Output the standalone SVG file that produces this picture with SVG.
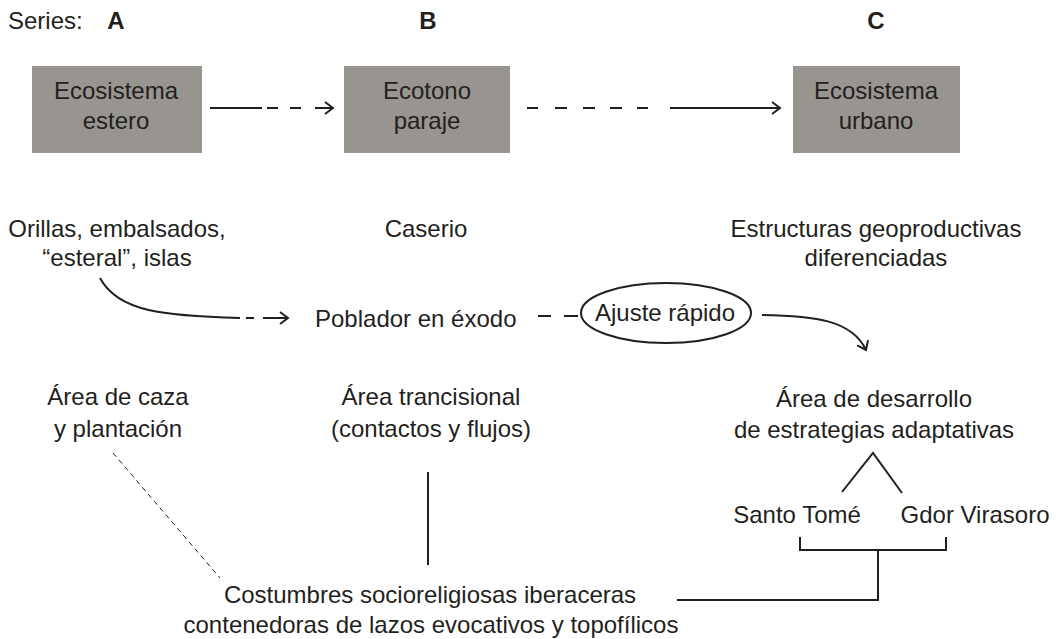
<svg xmlns="http://www.w3.org/2000/svg" width="1060" height="639" viewBox="0 0 1060 639">
<style>
text{font-family:"Liberation Sans",Arial,sans-serif;font-size:24px;fill:#231f20}
.b{font-weight:bold}
.m{text-anchor:middle}
.box{fill:#98948f}
.ln{fill:none;stroke:#231f20;stroke-width:2}
.thin{fill:none;stroke:#231f20;stroke-width:1;stroke-dasharray:5 4}
</style>
<defs>
<marker id="ah" markerUnits="userSpaceOnUse" markerWidth="14" markerHeight="16" refX="11" refY="8" orient="auto" viewBox="0 0 14 16">
<path d="M3,2 L11,8 L3,14" fill="none" stroke="#231f20" stroke-width="2"/>
</marker>
</defs>
<rect width="1060" height="639" fill="#fff"/>
<g id="header">
<text x="8" y="29">Series:</text>
<text class="b m" x="116" y="29">A</text>
<text class="b m" x="428" y="29">B</text>
<text class="b m" x="876" y="29">C</text>
</g>
<g id="nodeA">
<rect class="box" x="32" y="66" width="170" height="87"/>
<text class="m" x="116" y="99">Ecosistema</text>
<text class="m" x="116" y="129">estero</text>
</g>
<g id="nodeB">
<rect class="box" x="344" y="66" width="166" height="87"/>
<text class="m" x="427" y="99">Ecotono</text>
<text class="m" x="427" y="129">paraje</text>
</g>
<g id="nodeC">
<rect class="box" x="793" y="66" width="167" height="87"/>
<text class="m" x="876" y="99">Ecosistema</text>
<text class="m" x="876" y="129">urbano</text>
</g>
<g id="orillas"><text class="m" x="117" y="237">Orillas, embalsados,</text><text class="m" x="117" y="266">“esteral”, islas</text></g>
<g id="caserio"><text class="m" x="426" y="237">Caserio</text></g>
<g id="estructuras"><text class="m" x="876" y="237">Estructuras geoproductivas</text><text class="m" x="876" y="266">diferenciadas</text></g>
<g id="poblador"><text x="315" y="327">Poblador en éxodo</text></g>
<g id="ajuste">
<ellipse class="ln" cx="666" cy="313" rx="85" ry="30"/>
<text class="m" x="665" y="321">Ajuste rápido</text>
</g>
<g id="caza"><text class="m" x="118" y="405">Área de caza</text><text class="m" x="118" y="437">y plantación</text></g>
<g id="trancisional"><text class="m" x="431" y="405">Área trancisional</text><text class="m" x="431" y="437">(contactos y flujos)</text></g>
<g id="desarrollo"><text class="m" x="874" y="407">Área de desarrollo</text><text class="m" x="874" y="438">de estrategias adaptativas</text></g>
<g id="santotome"><text class="m" x="797" y="523">Santo Tomé</text></g>
<g id="virasoro"><text class="m" x="975" y="523">Gdor Virasoro</text></g>
<g id="costumbres"><text class="m" x="430" y="603">Costumbres socioreligiosas iberaceras</text><text class="m" x="431" y="633">contenedoras de lazos evocativos y topofílicos</text></g>
<g id="connectors">
<path class="ln" d="M210,108 H262"/>
<path class="ln" d="M267,108 H278 M290,108 H301"/>
<path class="ln" d="M315,108 H333" marker-end="url(#ah)"/>
<path class="ln" d="M527,108 H538 M555,108 H567 M583,108 H595 M610,108 H622 M637,108 H648"/>
<path class="ln" d="M670,108 H780" marker-end="url(#ah)"/>
<path class="ln" d="M100,278 C118,312 165,316 240,318"/>
<path class="ln" d="M246,318 H254"/>
<path class="ln" d="M263,318 H288" marker-end="url(#ah)"/>
<path class="ln" d="M538,316 H551 M564,316 H578"/>
<path class="ln" d="M762,315 C815,316 852,320 866,350" marker-end="url(#ah)"/>
<path class="ln" d="M842,492 L873,453 L902,493"/>
<path class="ln" d="M800,537 V550 H946 V537"/>
<path class="ln" d="M878,550 V600 H677"/>
<path class="ln" d="M428,472 V565"/>
<path class="thin" d="M113,453 L220,578"/>
</g>
</svg>
